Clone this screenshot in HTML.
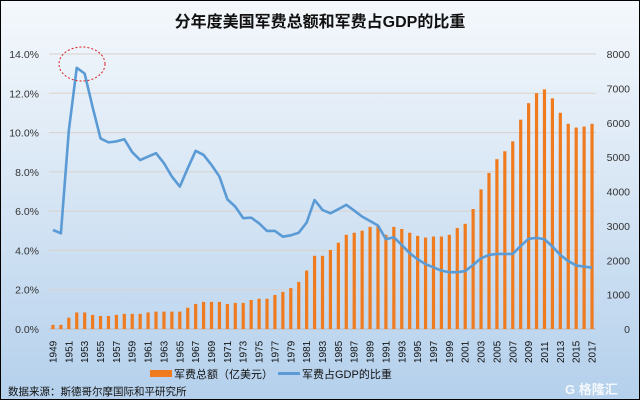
<!DOCTYPE html>
<html><head><meta charset="utf-8"><style>
body{margin:0;width:641px;height:406px;background:#fff;overflow:hidden}
svg{display:block;font-family:"Liberation Sans","Noto Sans CJK SC",sans-serif}
</style></head><body>
<svg id="c" width="641" height="406" xmlns="http://www.w3.org/2000/svg">
<defs><linearGradient id="bg" x1="0" y1="0" x2="0" y2="1">
<stop offset="0" stop-color="#f4f8fc"/><stop offset="0.5" stop-color="#d6e5f4"/><stop offset="1" stop-color="#b4d0ec"/></linearGradient></defs>
<rect x="0.5" y="0.5" width="639" height="399" fill="url(#bg)" stroke="#000"/>
<text x="320" y="27" text-anchor="middle" font-size="16" font-weight="bold" fill="#111">分年度美国军费总额和军费占GDP的比重</text>
<g id="grid"></g><g id="bars"></g><g id="line"></g><g id="axes"></g>
<ellipse cx="82" cy="64" rx="23" ry="17" fill="none" stroke="#e02020" stroke-width="1" stroke-dasharray="2,2"/>
<g>
<rect x="150" y="370" width="22" height="7" fill="#f07b1e"/>
<text x="174" y="378" font-size="11" fill="#111">军费总额（亿美元）</text>
<line x1="278" y1="373.5" x2="300" y2="373.5" stroke="#5b9bd5" stroke-width="3"/>
<text x="302" y="378" font-size="11" fill="#111">军费占GDP的比重</text>
</g>
<text x="8" y="395" font-size="10.5" fill="#111">数据来源：斯德哥尔摩国际和平研究所</text>
<text x="565" y="394" font-size="13" font-weight="bold" fill="#ffffff" opacity="0.85">G 格隆汇</text>
</svg>
<script>
const years=[];for(let y=1949;y<=2017;y++)years.push(y);
const spending=[120,120,330,480,480,410,380,380,410,440,440,440,480,505,505,505,505,620,730,790,790,790,730,760,760,845,880,880,990,1080,1190,1370,1700,2130,2130,2300,2510,2740,2800,2860,2970,2990,2740,2970,2910,2800,2710,2660,2690,2690,2740,2940,3060,3490,4060,4540,4940,5170,5460,6090,6570,6860,6970,6710,6290,5970,5860,5890,5970];
const gdpShare=[5.04,4.87,10.1,13.3,13.0,11.3,9.7,9.5,9.55,9.66,9.0,8.6,8.78,8.95,8.44,7.76,7.25,8.18,9.07,8.86,8.35,7.76,6.6,6.23,5.64,5.67,5.38,4.99,4.99,4.7,4.77,4.9,5.42,6.57,6.06,5.89,6.1,6.32,6.03,5.72,5.5,5.27,4.57,4.67,4.28,3.86,3.55,3.3,3.14,2.97,2.89,2.89,2.95,3.26,3.6,3.77,3.82,3.82,3.82,4.23,4.59,4.64,4.57,4.2,3.77,3.46,3.23,3.18,3.12];
const leftTicks=[0,2,4,6,8,10,12,14];
const rightTicks=[0,1000,2000,3000,4000,5000,6000,7000,8000];
const NS="http://www.w3.org/2000/svg";
const X0=49,X1=596,Y0=329,Y1=54;
const step=(X1-X0)/years.length;
const xs=i=>X0+step*(i+0.5);
const yL=v=>Y0-(v/14)*(Y0-Y1);
const yR=v=>Y0-(v/8000)*(Y0-Y1);
function mk(tag,attrs,parent){const e=document.createElementNS(NS,tag);for(const k in attrs)e.setAttribute(k,attrs[k]);document.getElementById(parent).appendChild(e);return e;}
leftTicks.forEach(t=>{
  const l=mk('line',{x1:X0,x2:X1,y1:yL(t),y2:yL(t),stroke:t===0?'#bbb':'#d8d2cc','stroke-width':1},'grid');
  
  
  const tx=mk('text',{x:39,y:yL(t)+4,'text-anchor':'end','font-size':10.5,fill:'#333'},'axes');
  tx.textContent=t.toFixed(1)+'%';
  
  
});
rightTicks.forEach(t=>{
  const tx=mk('text',{x:630,y:yR(t)+4,'text-anchor':'end','font-size':10.5,fill:'#333'},'axes');
  tx.textContent=t;
  
  
});
spending.forEach((v,i)=>{
  const r=mk('rect',{x:xs(i)-1.6,y:yR(v),width:3.2,height:Y0-yR(v),fill:'#f07b1e'},'bars');
  
  
});
const p=mk('polyline',{points:gdpShare.map((v,i)=>xs(i)+','+yL(v)).join(' '),fill:'none',stroke:'#5b9bd5','stroke-width':2.6,'stroke-linejoin':'round'},'line');


years.forEach((y,i)=>{
  if(i%2)return;
  const tx=mk('text',{x:0,y:0,'font-size':10,fill:'#111',transform:'translate('+(xs(i)+3.5)+',363) rotate(-90)'},'axes');
  tx.textContent=y;
  
  
});
</script>
</body></html>
